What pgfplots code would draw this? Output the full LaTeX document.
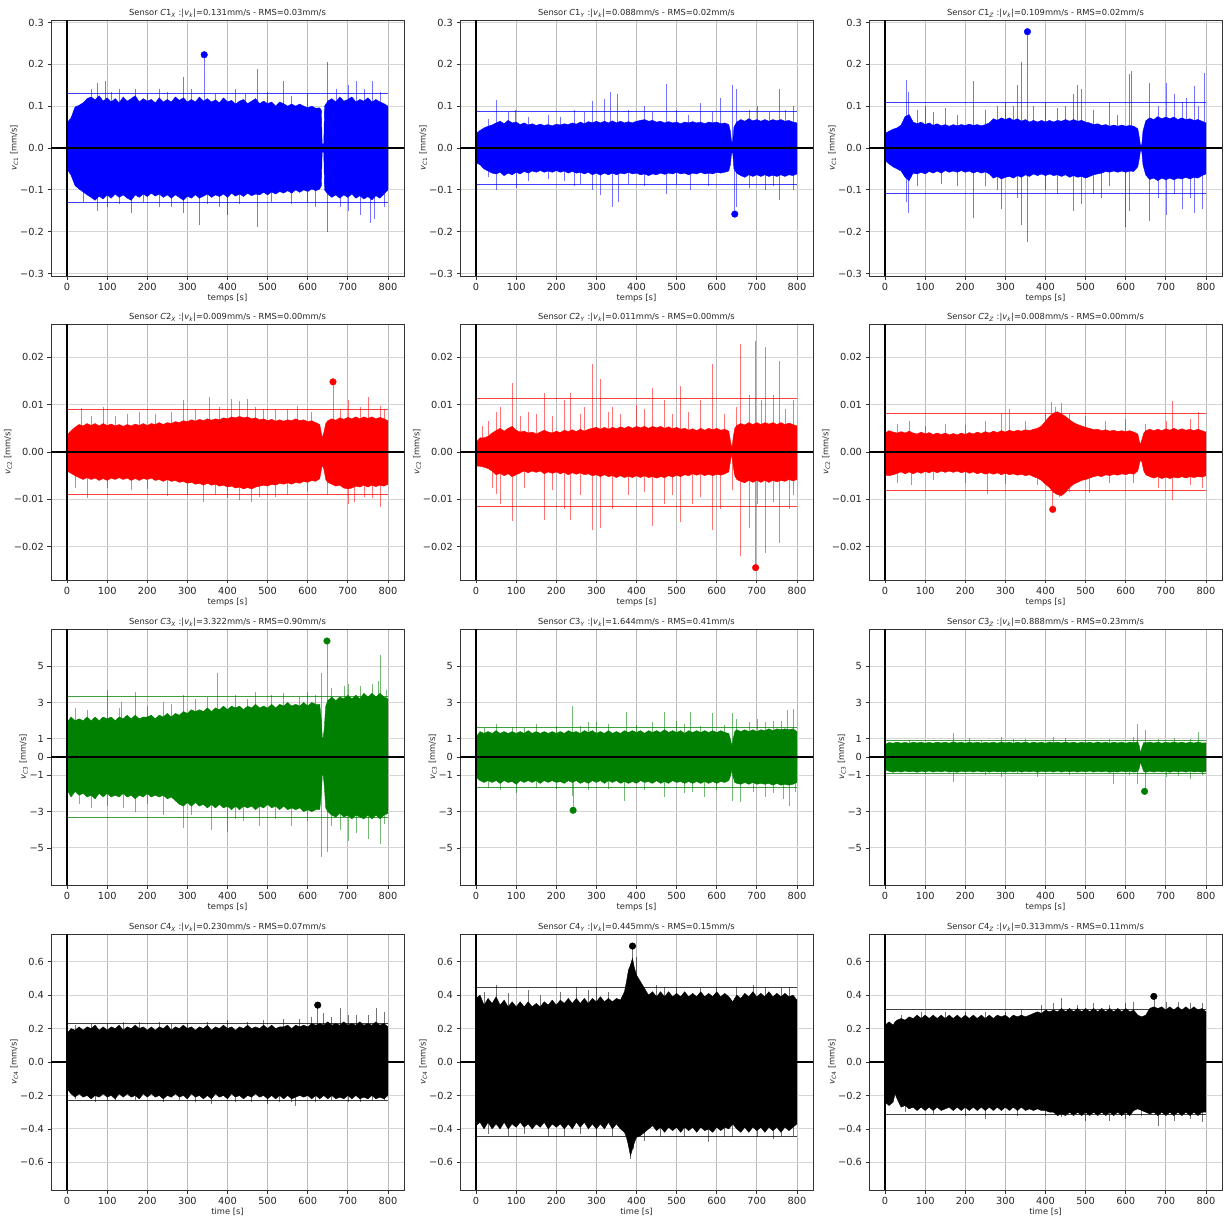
\documentclass[border=0pt]{standalone}
\usepackage{fontspec}
\setmainfont{DejaVu Sans}
\usepackage{pgfplots}
\pgfplotsset{compat=1.18}
\usepackage{pgfplotstable}
\definecolor{mplgreen}{rgb}{0,0.5,0}

\pgfplotsset{
 panel/.style={anchor=north west, scale only axis, width=353pt, height=256pt,
  xmin=-40, xmax=840, xtick={0,100,...,800},
  xticklabels={0,100,200,300,400,500,600,700,800},
  scaled ticks=false,
  grid=major, major grid style={gray!32, line width=0.9pt},
  major x grid style={gray!55, line width=0.7pt},
  tick align=outside, tick pos=left, major tick length=3.5pt,
  tick style={black!80, line width=0.8pt},
  axis line style={black!80, line width=0.8pt},
  ticklabel style={font=\fontsize{9.8}{11}\selectfont, text=black!85},
  label style={font=\fontsize{8.33}{10}\selectfont, text=black!85},
  xlabel style={yshift=3pt},
  ylabel shift=-5pt,
  title style={font=\fontsize{8.33}{10}\selectfont, text=black!85, inner sep=0pt, yshift=-4pt},
 },
 rA/.style={ymin=-0.306, ymax=0.306, ytick={-0.3,-0.2,-0.1,0,0.1,0.2,0.3},
  yticklabels={−0.3,−0.2,−0.1,0.0,0.1,0.2,0.3}, xlabel={temps [s]},
  ylabel={\textit{v}\textsubscript{\textit{C}1} [mm/s]}},
 rB/.style={ymin=-0.027, ymax=0.027, ytick={-0.02,-0.01,0,0.01,0.02},
  yticklabels={−0.02,−0.01,0.00,0.01,0.02}, xlabel={temps [s]},
  ylabel={\textit{v}\textsubscript{\textit{C}2} [mm/s]}},
 rC/.style={ymin=-7.04, ymax=7.04, ytick={-5,-3,-1,0,1,3,5},
  yticklabels={−5,−3,−1,0,1,3,5}, xlabel={temps [s]},
  ylabel={\textit{v}\textsubscript{\textit{C}3} [mm/s]}},
 rD/.style={ymin=-0.765, ymax=0.765, ytick={-0.6,-0.4,-0.2,0,0.2,0.4,0.6},
  yticklabels={−0.6,−0.4,−0.2,0.0,0.2,0.4,0.6}, xlabel={time [s]},
  ylabel={\textit{v}\textsubscript{\textit{C}4} [mm/s]}},
}

\newcommand{\ttl}[4]{Sensor \textit{C}#1\textsubscript{\textit{#2}} :|\textit{v}\textsubscript{\textit{k}}|=#3mm/s - RMS=#4mm/s}

% #1 position, #2 row style, #3 title, #4 colour, #5 envelope table, #6 spikes, #7 |v_k|, #8 peak, #9 y limit
\newcommand{\panel}[9]{%
 \begin{axis}[panel, at={(#1)}, #2, title={#3}]
  \addplot[fill=#4, draw=#4, line width=0.4pt] table[x=t,y=u]{#5} \closedcycle;
  \addplot[fill=#4, draw=#4, line width=0.4pt] table[x=t,y=l]{#5} \closedcycle;
  \addplot[ycomb, draw=#4, opacity=0.55, line width=0.6pt] coordinates {#6};
  \addplot[draw=#4, line width=0.8pt, opacity=0.75] coordinates {(0,#7)(800,#7)};
  \addplot[draw=#4, line width=0.8pt, opacity=0.75] coordinates {(0,-#7)(800,-#7)};
  \addplot[only marks, mark=*, mark size=3.3pt, color=#4] coordinates {#8};
  \addplot[black, line width=1.2pt] coordinates {(-40,0)(840,0)};
  \addplot[black, line width=1.2pt] coordinates {(0,-#9)(0,#9)};
 \end{axis}}

% ---------------- envelopes (t, upper, lower) ----------------
\pgfplotstableread[row sep=\\]{t u l\\
0 0.060 -0.050\\ 10 0.072 -0.065\\ 20 0.098 -0.090\\ 30 0.102 -0.098\\ 40 0.108 -0.105\\ 50 0.118 -0.112\\ 60 0.122 -0.118\\ 70 0.115 -0.125\\ 80 0.125 -0.115\\ 90 0.112 -0.122\\
100 0.120 -0.112\\ 110 0.110 -0.120\\ 120 0.118 -0.110\\ 130 0.108 -0.118\\ 140 0.122 -0.112\\ 150 0.112 -0.120\\ 160 0.118 -0.125\\ 170 0.125 -0.112\\ 180 0.110 -0.118\\ 190 0.118 -0.110\\
200 0.112 -0.116\\ 210 0.116 -0.108\\ 220 0.108 -0.115\\ 230 0.120 -0.110\\ 240 0.110 -0.118\\ 250 0.116 -0.112\\ 260 0.110 -0.120\\ 270 0.122 -0.112\\ 280 0.114 -0.118\\ 290 0.120 -0.125\\
300 0.110 -0.115\\ 310 0.116 -0.120\\ 320 0.110 -0.112\\ 330 0.122 -0.120\\ 340 0.112 -0.115\\ 350 0.118 -0.110\\ 360 0.110 -0.118\\ 370 0.115 -0.112\\ 380 0.108 -0.116\\ 390 0.120 -0.110\\
400 0.110 -0.118\\ 410 0.114 -0.108\\ 420 0.105 -0.115\\ 430 0.112 -0.110\\ 440 0.116 -0.116\\ 450 0.106 -0.108\\ 460 0.112 -0.114\\ 470 0.118 -0.110\\ 480 0.106 -0.112\\ 490 0.112 -0.106\\
500 0.106 -0.112\\ 510 0.110 -0.105\\ 520 0.100 -0.110\\ 530 0.110 -0.104\\ 540 0.106 -0.108\\ 550 0.100 -0.102\\ 560 0.105 -0.108\\ 570 0.100 -0.100\\ 580 0.105 -0.106\\ 590 0.100 -0.100\\
600 0.096 -0.104\\ 610 0.100 -0.098\\ 620 0.095 -0.102\\ 630 0.096 -0.098\\ 634 0.090 -0.090\\ 636 0.010 -0.010\\ 640 0.010 -0.010\\ 642 0.100 -0.100\\ 650 0.112 -0.110\\ 660 0.118 -0.118\\
670 0.110 -0.112\\ 680 0.122 -0.120\\ 690 0.112 -0.112\\ 700 0.116 -0.118\\ 710 0.122 -0.110\\ 720 0.110 -0.120\\ 730 0.116 -0.114\\ 740 0.112 -0.122\\ 750 0.120 -0.116\\ 760 0.110 -0.124\\
770 0.116 -0.114\\ 780 0.110 -0.120\\ 790 0.106 -0.110\\ 800 0.100 -0.100\\}\tA

\pgfplotstableread[row sep=\\]{t u l\\
0 0.035 -0.035\\ 10 0.042 -0.040\\ 20 0.048 -0.050\\ 30 0.052 -0.055\\ 40 0.055 -0.060\\ 50 0.060 -0.062\\ 60 0.064 -0.058\\ 70 0.058 -0.066\\ 80 0.066 -0.060\\ 90 0.060 -0.064\\
100 0.062 -0.058\\ 110 0.056 -0.062\\ 120 0.060 -0.056\\ 130 0.055 -0.060\\ 140 0.058 -0.055\\ 150 0.054 -0.058\\ 160 0.057 -0.054\\ 170 0.054 -0.058\\ 180 0.056 -0.055\\ 190 0.053 -0.058\\
200 0.057 -0.054\\ 210 0.055 -0.058\\ 220 0.058 -0.055\\ 230 0.056 -0.060\\ 240 0.060 -0.056\\ 250 0.057 -0.060\\ 260 0.062 -0.058\\ 270 0.058 -0.062\\ 280 0.063 -0.058\\ 290 0.060 -0.064\\
300 0.064 -0.060\\ 310 0.060 -0.065\\ 320 0.064 -0.060\\ 330 0.060 -0.064\\ 340 0.065 -0.060\\ 350 0.060 -0.064\\ 360 0.064 -0.060\\ 370 0.060 -0.062\\ 380 0.063 -0.058\\ 390 0.060 -0.062\\
400 0.064 -0.060\\ 410 0.066 -0.064\\ 420 0.068 -0.062\\ 430 0.064 -0.066\\ 440 0.066 -0.062\\ 450 0.062 -0.064\\ 460 0.064 -0.060\\ 470 0.060 -0.063\\ 480 0.063 -0.060\\ 490 0.060 -0.062\\
500 0.062 -0.058\\ 510 0.058 -0.062\\ 520 0.062 -0.060\\ 530 0.060 -0.064\\ 540 0.063 -0.060\\ 550 0.060 -0.062\\ 560 0.062 -0.058\\ 570 0.058 -0.062\\ 580 0.062 -0.060\\ 590 0.060 -0.062\\
600 0.062 -0.058\\ 610 0.058 -0.060\\ 620 0.060 -0.058\\ 630 0.056 -0.055\\ 634 0.040 -0.040\\ 637 0.015 -0.012\\ 640 0.015 -0.012\\ 643 0.050 -0.050\\ 650 0.062 -0.060\\ 660 0.068 -0.066\\
670 0.064 -0.070\\ 680 0.070 -0.064\\ 690 0.065 -0.068\\ 700 0.068 -0.064\\ 710 0.064 -0.068\\ 720 0.068 -0.064\\ 730 0.064 -0.068\\ 740 0.068 -0.065\\ 750 0.065 -0.068\\ 760 0.068 -0.064\\
770 0.064 -0.068\\ 780 0.066 -0.064\\ 790 0.062 -0.066\\ 800 0.060 -0.062\\}\tB

\pgfplotstableread[row sep=\\]{t u l\\
0 0.035 -0.030\\ 10 0.040 -0.038\\ 20 0.045 -0.045\\ 30 0.048 -0.050\\ 40 0.055 -0.055\\ 50 0.075 -0.070\\ 60 0.080 -0.078\\ 70 0.062 -0.060\\ 80 0.058 -0.062\\ 90 0.062 -0.058\\
100 0.056 -0.062\\ 110 0.060 -0.056\\ 120 0.054 -0.060\\ 130 0.058 -0.055\\ 140 0.053 -0.060\\ 150 0.056 -0.054\\ 160 0.052 -0.058\\ 170 0.056 -0.055\\ 180 0.053 -0.058\\ 190 0.056 -0.054\\
200 0.054 -0.058\\ 210 0.057 -0.055\\ 220 0.054 -0.060\\ 230 0.056 -0.056\\ 240 0.053 -0.060\\ 250 0.056 -0.057\\ 260 0.060 -0.062\\ 270 0.070 -0.072\\ 280 0.066 -0.068\\ 290 0.072 -0.074\\
300 0.068 -0.070\\ 310 0.072 -0.068\\ 320 0.066 -0.072\\ 330 0.070 -0.066\\ 340 0.064 -0.070\\ 350 0.068 -0.064\\ 360 0.062 -0.068\\ 370 0.066 -0.062\\ 380 0.062 -0.066\\ 390 0.066 -0.062\\
400 0.062 -0.066\\ 410 0.066 -0.062\\ 420 0.062 -0.066\\ 430 0.066 -0.064\\ 440 0.064 -0.068\\ 450 0.068 -0.064\\ 460 0.064 -0.070\\ 470 0.068 -0.066\\ 480 0.064 -0.070\\ 490 0.066 -0.068\\
500 0.062 -0.072\\ 510 0.060 -0.068\\ 520 0.056 -0.064\\ 530 0.058 -0.062\\ 540 0.054 -0.060\\ 550 0.056 -0.056\\ 560 0.052 -0.058\\ 570 0.055 -0.055\\ 580 0.052 -0.058\\ 590 0.055 -0.055\\
600 0.052 -0.058\\ 610 0.054 -0.055\\ 620 0.052 -0.056\\ 630 0.046 -0.045\\ 634 0.025 -0.025\\ 637 0.005 -0.005\\ 640 0.008 -0.008\\ 643 0.040 -0.040\\ 650 0.065 -0.065\\ 660 0.072 -0.075\\
670 0.068 -0.072\\ 680 0.075 -0.078\\ 690 0.070 -0.072\\ 700 0.074 -0.076\\ 710 0.070 -0.072\\ 720 0.074 -0.076\\ 730 0.068 -0.072\\ 740 0.072 -0.074\\ 750 0.068 -0.070\\ 760 0.070 -0.074\\
770 0.066 -0.070\\ 780 0.068 -0.072\\ 790 0.064 -0.066\\ 800 0.060 -0.062\\}\tC

\pgfplotstableread[row sep=\\]{t u l\\
0 0.0035 -0.0040\\ 10 0.0045 -0.0045\\ 20 0.0052 -0.0050\\ 30 0.0058 -0.0054\\ 40 0.0055 -0.0058\\ 50 0.0060 -0.0054\\ 60 0.0056 -0.0058\\ 70 0.0060 -0.0055\\ 80 0.0055 -0.0060\\ 90 0.0060 -0.0056\\
100 0.0056 -0.0060\\ 110 0.0059 -0.0055\\ 120 0.0055 -0.0058\\ 130 0.0058 -0.0054\\ 140 0.0054 -0.0058\\ 150 0.0058 -0.0055\\ 160 0.0055 -0.0060\\ 170 0.0059 -0.0056\\ 180 0.0056 -0.0060\\ 190 0.0060 -0.0056\\
200 0.0056 -0.0058\\ 210 0.0060 -0.0055\\ 220 0.0058 -0.0060\\ 230 0.0062 -0.0058\\ 240 0.0058 -0.0062\\ 250 0.0062 -0.0058\\ 260 0.0060 -0.0062\\ 270 0.0064 -0.0060\\ 280 0.0062 -0.0064\\ 290 0.0066 -0.0062\\
300 0.0064 -0.0066\\ 310 0.0068 -0.0064\\ 320 0.0065 -0.0068\\ 330 0.0069 -0.0066\\ 340 0.0066 -0.0070\\ 350 0.0070 -0.0066\\ 360 0.0067 -0.0070\\ 370 0.0070 -0.0068\\ 380 0.0068 -0.0072\\ 390 0.0072 -0.0070\\
400 0.0070 -0.0074\\ 410 0.0074 -0.0072\\ 420 0.0072 -0.0076\\ 430 0.0075 -0.0074\\ 440 0.0072 -0.0078\\ 450 0.0074 -0.0075\\ 460 0.0070 -0.0078\\ 470 0.0072 -0.0074\\ 480 0.0068 -0.0072\\ 490 0.0070 -0.0070\\
500 0.0066 -0.0072\\ 510 0.0069 -0.0068\\ 520 0.0065 -0.0070\\ 530 0.0068 -0.0066\\ 540 0.0065 -0.0068\\ 550 0.0068 -0.0065\\ 560 0.0066 -0.0068\\ 570 0.0070 -0.0064\\ 580 0.0066 -0.0066\\ 590 0.0068 -0.0062\\
600 0.0064 -0.0064\\ 610 0.0066 -0.0060\\ 620 0.0062 -0.0062\\ 630 0.0058 -0.0056\\ 636 0.0030 -0.0028\\ 640 0.0040 -0.0035\\ 645 0.0060 -0.0058\\ 650 0.0066 -0.0064\\ 660 0.0070 -0.0068\\ 670 0.0067 -0.0072\\
680 0.0072 -0.0070\\ 690 0.0069 -0.0076\\ 700 0.0073 -0.0078\\ 710 0.0070 -0.0076\\ 720 0.0074 -0.0072\\ 730 0.0070 -0.0074\\ 740 0.0074 -0.0070\\ 750 0.0071 -0.0074\\ 760 0.0074 -0.0070\\ 770 0.0070 -0.0073\\
780 0.0073 -0.0070\\ 790 0.0070 -0.0072\\ 800 0.0066 -0.0068\\}\tD

\pgfplotstableread[row sep=\\]{t u l\\
0 0.0020 -0.0030\\ 10 0.0030 -0.0030\\ 20 0.0030 -0.0032\\ 30 0.0033 -0.0035\\ 40 0.0040 -0.0040\\ 50 0.0045 -0.0048\\ 60 0.0050 -0.0045\\ 70 0.0044 -0.0050\\ 80 0.0050 -0.0046\\ 90 0.0054 -0.0052\\
100 0.0046 -0.0048\\ 110 0.0042 -0.0044\\ 120 0.0044 -0.0040\\ 130 0.0040 -0.0044\\ 140 0.0042 -0.0040\\ 150 0.0038 -0.0043\\ 160 0.0042 -0.0040\\ 170 0.0046 -0.0046\\ 180 0.0042 -0.0042\\ 190 0.0040 -0.0045\\
200 0.0044 -0.0042\\ 210 0.0041 -0.0046\\ 220 0.0046 -0.0043\\ 230 0.0043 -0.0048\\ 240 0.0047 -0.0044\\ 250 0.0043 -0.0047\\ 260 0.0048 -0.0044\\ 270 0.0044 -0.0048\\ 280 0.0048 -0.0046\\ 290 0.0050 -0.0050\\
300 0.0052 -0.0048\\ 310 0.0048 -0.0052\\ 320 0.0052 -0.0048\\ 330 0.0048 -0.0052\\ 340 0.0052 -0.0050\\ 350 0.0049 -0.0054\\ 360 0.0053 -0.0050\\ 370 0.0050 -0.0054\\ 380 0.0054 -0.0051\\ 390 0.0050 -0.0054\\
400 0.0054 -0.0050\\ 410 0.0051 -0.0054\\ 420 0.0054 -0.0050\\ 430 0.0050 -0.0054\\ 440 0.0054 -0.0052\\ 450 0.0051 -0.0055\\ 460 0.0054 -0.0052\\ 470 0.0050 -0.0054\\ 480 0.0053 -0.0050\\ 490 0.0049 -0.0053\\
500 0.0052 -0.0049\\ 510 0.0048 -0.0052\\ 520 0.0050 -0.0048\\ 530 0.0046 -0.0050\\ 540 0.0049 -0.0046\\ 550 0.0045 -0.0049\\ 560 0.0050 -0.0046\\ 570 0.0046 -0.0050\\ 580 0.0050 -0.0047\\ 590 0.0047 -0.0050\\
600 0.0050 -0.0047\\ 610 0.0046 -0.0049\\ 620 0.0048 -0.0046\\ 630 0.0044 -0.0042\\ 635 0.0020 -0.0015\\ 638 0.0008 -0.0005\\ 641 0.0030 -0.0030\\ 645 0.0050 -0.0050\\ 650 0.0056 -0.0058\\ 660 0.0060 -0.0062\\
670 0.0057 -0.0065\\ 680 0.0062 -0.0060\\ 690 0.0058 -0.0064\\ 700 0.0062 -0.0060\\ 710 0.0058 -0.0064\\ 720 0.0062 -0.0060\\ 730 0.0059 -0.0064\\ 740 0.0062 -0.0060\\ 750 0.0058 -0.0063\\ 760 0.0062 -0.0060\\
770 0.0058 -0.0062\\ 780 0.0061 -0.0058\\ 790 0.0058 -0.0061\\ 800 0.0055 -0.0058\\}\tE

\pgfplotstableread[row sep=\\]{t u l\\
0 0.0040 -0.0050\\ 10 0.0045 -0.0050\\ 20 0.0042 -0.0048\\ 30 0.0040 -0.0045\\ 40 0.0043 -0.0042\\ 50 0.0040 -0.0046\\ 60 0.0044 -0.0042\\ 70 0.0040 -0.0046\\ 80 0.0038 -0.0042\\ 90 0.0042 -0.0045\\
100 0.0038 -0.0041\\ 110 0.0041 -0.0044\\ 120 0.0037 -0.0040\\ 130 0.0040 -0.0044\\ 140 0.0037 -0.0040\\ 150 0.0040 -0.0043\\ 160 0.0036 -0.0040\\ 170 0.0039 -0.0043\\ 180 0.0036 -0.0040\\ 190 0.0040 -0.0044\\
200 0.0037 -0.0041\\ 210 0.0041 -0.0045\\ 220 0.0038 -0.0042\\ 230 0.0042 -0.0046\\ 240 0.0039 -0.0043\\ 250 0.0043 -0.0047\\ 260 0.0040 -0.0044\\ 270 0.0044 -0.0047\\ 280 0.0041 -0.0044\\ 290 0.0045 -0.0048\\
300 0.0042 -0.0045\\ 310 0.0046 -0.0048\\ 320 0.0043 -0.0046\\ 330 0.0046 -0.0049\\ 340 0.0044 -0.0047\\ 350 0.0047 -0.0050\\ 360 0.0045 -0.0048\\ 370 0.0048 -0.0052\\ 380 0.0050 -0.0055\\ 390 0.0055 -0.0060\\
400 0.0065 -0.0068\\ 410 0.0075 -0.0075\\ 420 0.0082 -0.0085\\ 430 0.0085 -0.0090\\ 440 0.0080 -0.0092\\ 450 0.0075 -0.0085\\ 460 0.0068 -0.0075\\ 470 0.0062 -0.0068\\ 480 0.0058 -0.0064\\ 490 0.0055 -0.0060\\
500 0.0052 -0.0058\\ 510 0.0050 -0.0055\\ 520 0.0047 -0.0052\\ 530 0.0048 -0.0050\\ 540 0.0045 -0.0052\\ 550 0.0047 -0.0048\\ 560 0.0044 -0.0050\\ 570 0.0046 -0.0047\\ 580 0.0043 -0.0049\\ 590 0.0045 -0.0046\\
600 0.0043 -0.0048\\ 610 0.0045 -0.0045\\ 620 0.0042 -0.0047\\ 630 0.0038 -0.0040\\ 636 0.0015 -0.0018\\ 640 0.0025 -0.0020\\ 645 0.0040 -0.0040\\ 650 0.0045 -0.0048\\ 660 0.0048 -0.0052\\ 670 0.0045 -0.0055\\
680 0.0048 -0.0052\\ 690 0.0045 -0.0056\\ 700 0.0049 -0.0053\\ 710 0.0046 -0.0056\\ 720 0.0050 -0.0053\\ 730 0.0046 -0.0055\\ 740 0.0049 -0.0052\\ 750 0.0046 -0.0055\\ 760 0.0048 -0.0052\\ 770 0.0045 -0.0054\\
780 0.0048 -0.0052\\ 790 0.0045 -0.0053\\ 800 0.0042 -0.0050\\}\tF

\pgfplotstableread[row sep=\\]{t u l\\
0 1.9 -1.8\\ 10 2.2 -2.2\\ 20 2.0 -1.9\\ 30 2.1 -2.1\\ 40 2.0 -2.0\\ 50 2.2 -2.2\\ 60 2.0 -2.1\\ 70 2.2 -2.3\\ 80 2.0 -2.0\\ 90 2.2 -2.2\\
100 2.1 -2.0\\ 110 2.2 -2.2\\ 120 2.0 -2.1\\ 130 2.2 -2.2\\ 140 2.1 -2.0\\ 150 2.3 -2.2\\ 160 2.1 -2.1\\ 170 2.3 -2.3\\ 180 2.1 -2.1\\ 190 2.2 -2.2\\
200 2.2 -2.0\\ 210 2.3 -2.2\\ 220 2.1 -2.1\\ 230 2.3 -2.2\\ 240 2.2 -2.1\\ 250 2.4 -2.3\\ 260 2.2 -2.2\\ 270 2.4 -2.4\\ 280 2.3 -2.6\\ 290 2.5 -2.7\\
300 2.4 -2.5\\ 310 2.6 -2.7\\ 320 2.5 -2.5\\ 330 2.6 -2.7\\ 340 2.5 -2.6\\ 350 2.7 -2.8\\ 360 2.5 -2.6\\ 370 2.7 -2.8\\ 380 2.6 -2.6\\ 390 2.8 -2.8\\
400 2.6 -2.7\\ 410 2.8 -2.9\\ 420 2.7 -2.7\\ 430 2.8 -2.9\\ 440 2.6 -2.7\\ 450 2.8 -2.8\\ 460 2.7 -2.7\\ 470 2.9 -2.9\\ 480 2.7 -2.7\\ 490 2.8 -2.8\\
500 2.7 -2.6\\ 510 2.9 -2.8\\ 520 2.7 -2.7\\ 530 2.9 -2.9\\ 540 2.8 -2.7\\ 550 3.0 -2.9\\ 560 2.8 -2.8\\ 570 2.9 -2.9\\ 580 2.8 -2.8\\ 590 3.0 -3.0\\
600 2.8 -2.9\\ 610 3.0 -3.0\\ 620 2.9 -2.9\\ 630 2.9 -2.9\\ 634 2.0 -2.0\\ 637 0.8 -0.7\\ 641 1.5 -1.5\\ 645 2.8 -2.8\\ 650 3.1 -3.0\\ 660 3.3 -3.2\\
670 3.1 -3.3\\ 680 3.3 -3.1\\ 690 3.2 -3.3\\ 700 3.4 -3.2\\ 710 3.2 -3.4\\ 720 3.4 -3.2\\ 730 3.2 -3.3\\ 740 3.5 -3.4\\ 750 3.3 -3.2\\ 760 3.5 -3.4\\
770 3.3 -3.2\\ 780 3.5 -3.4\\ 790 3.3 -3.2\\ 800 3.2 -3.1\\}\tG

\pgfplotstableread[row sep=\\]{t u l\\
0 1.1 -1.1\\ 10 1.4 -1.3\\ 20 1.3 -1.4\\ 30 1.4 -1.3\\ 40 1.3 -1.4\\ 50 1.45 -1.3\\ 60 1.3 -1.45\\ 70 1.4 -1.3\\ 80 1.3 -1.4\\ 90 1.4 -1.35\\
100 1.3 -1.5\\ 110 1.4 -1.3\\ 120 1.3 -1.4\\ 130 1.45 -1.3\\ 140 1.3 -1.4\\ 150 1.4 -1.3\\ 160 1.3 -1.45\\ 170 1.4 -1.3\\ 180 1.3 -1.4\\ 190 1.4 -1.3\\
200 1.3 -1.4\\ 210 1.4 -1.35\\ 220 1.3 -1.45\\ 230 1.45 -1.3\\ 240 1.35 -1.4\\ 250 1.4 -1.3\\ 260 1.3 -1.45\\ 270 1.45 -1.35\\ 280 1.35 -1.45\\ 290 1.45 -1.3\\
300 1.3 -1.4\\ 310 1.4 -1.3\\ 320 1.3 -1.45\\ 330 1.45 -1.3\\ 340 1.3 -1.4\\ 350 1.4 -1.3\\ 360 1.3 -1.45\\ 370 1.45 -1.35\\ 380 1.35 -1.45\\ 390 1.45 -1.35\\
400 1.35 -1.45\\ 410 1.45 -1.3\\ 420 1.3 -1.4\\ 430 1.45 -1.35\\ 440 1.35 -1.45\\ 450 1.45 -1.3\\ 460 1.35 -1.45\\ 470 1.5 -1.35\\ 480 1.35 -1.45\\ 490 1.45 -1.3\\
500 1.35 -1.4\\ 510 1.45 -1.35\\ 520 1.3 -1.45\\ 530 1.45 -1.35\\ 540 1.35 -1.45\\ 550 1.45 -1.35\\ 560 1.35 -1.45\\ 570 1.45 -1.35\\ 580 1.35 -1.45\\ 590 1.45 -1.35\\
600 1.35 -1.45\\ 610 1.45 -1.35\\ 620 1.35 -1.4\\ 630 1.3 -1.3\\ 635 0.9 -1.0\\ 638 0.6 -0.7\\ 641 1.0 -1.1\\ 645 1.4 -1.4\\ 650 1.5 -1.45\\ 660 1.4 -1.5\\
670 1.5 -1.4\\ 680 1.4 -1.5\\ 690 1.5 -1.4\\ 700 1.4 -1.5\\ 710 1.5 -1.45\\ 720 1.45 -1.5\\ 730 1.55 -1.45\\ 740 1.45 -1.55\\ 750 1.55 -1.45\\ 760 1.5 -1.55\\
770 1.55 -1.5\\ 780 1.5 -1.55\\ 790 1.55 -1.5\\ 800 1.4 -1.4\\}\tH

\pgfplotstableread[row sep=\\]{t u l\\
0 0.70 -0.70\\ 10 0.80 -0.78\\ 20 0.76 -0.84\\ 30 0.82 -0.78\\ 40 0.76 -0.83\\ 50 0.81 -0.77\\ 60 0.75 -0.82\\ 70 0.82 -0.78\\ 80 0.77 -0.84\\ 90 0.82 -0.78\\
100 0.76 -0.82\\ 110 0.81 -0.77\\ 120 0.76 -0.83\\ 130 0.82 -0.78\\ 140 0.77 -0.82\\ 150 0.82 -0.77\\ 160 0.76 -0.83\\ 170 0.84 -0.80\\ 180 0.77 -0.84\\ 190 0.82 -0.78\\
200 0.76 -0.82\\ 210 0.82 -0.78\\ 220 0.77 -0.83\\ 230 0.82 -0.77\\ 240 0.76 -0.82\\ 250 0.81 -0.78\\ 260 0.77 -0.83\\ 270 0.82 -0.78\\ 280 0.76 -0.82\\ 290 0.83 -0.80\\
300 0.77 -0.83\\ 310 0.82 -0.78\\ 320 0.76 -0.82\\ 330 0.82 -0.77\\ 340 0.77 -0.83\\ 350 0.83 -0.78\\ 360 0.76 -0.82\\ 370 0.82 -0.78\\ 380 0.77 -0.84\\ 390 0.82 -0.78\\
400 0.76 -0.82\\ 410 0.83 -0.78\\ 420 0.78 -0.83\\ 430 0.82 -0.77\\ 440 0.77 -0.83\\ 450 0.83 -0.78\\ 460 0.77 -0.82\\ 470 0.82 -0.78\\ 480 0.76 -0.83\\ 490 0.82 -0.78\\
500 0.77 -0.82\\ 510 0.82 -0.77\\ 520 0.76 -0.83\\ 530 0.83 -0.78\\ 540 0.77 -0.82\\ 550 0.82 -0.78\\ 560 0.76 -0.84\\ 570 0.82 -0.80\\ 580 0.77 -0.83\\ 590 0.82 -0.78\\
600 0.76 -0.82\\ 610 0.82 -0.78\\ 620 0.78 -0.83\\ 630 0.84 -0.80\\ 634 0.60 -0.60\\ 637 0.20 -0.25\\ 640 0.50 -0.50\\ 645 0.80 -0.80\\ 650 0.78 -0.84\\ 660 0.82 -0.78\\
670 0.77 -0.83\\ 680 0.82 -0.78\\ 690 0.76 -0.82\\ 700 0.82 -0.78\\ 710 0.77 -0.84\\ 720 0.83 -0.78\\ 730 0.77 -0.82\\ 740 0.82 -0.78\\ 750 0.76 -0.83\\ 760 0.82 -0.78\\
770 0.77 -0.82\\ 780 0.83 -0.80\\ 790 0.77 -0.83\\ 800 0.78 -0.80\\}\tI

\pgfplotstableread[row sep=\\]{t u l\\
0 0.17 -0.16\\ 10 0.20 -0.19\\ 20 0.19 -0.21\\ 30 0.21 -0.19\\ 40 0.19 -0.21\\ 50 0.21 -0.20\\ 60 0.20 -0.22\\ 70 0.22 -0.20\\ 80 0.19 -0.21\\ 90 0.21 -0.19\\
100 0.19 -0.21\\ 110 0.21 -0.20\\ 120 0.20 -0.22\\ 130 0.22 -0.19\\ 140 0.19 -0.21\\ 150 0.21 -0.19\\ 160 0.20 -0.21\\ 170 0.22 -0.20\\ 180 0.20 -0.22\\ 190 0.21 -0.19\\
200 0.19 -0.21\\ 210 0.21 -0.19\\ 220 0.19 -0.21\\ 230 0.21 -0.20\\ 240 0.20 -0.22\\ 250 0.22 -0.20\\ 260 0.19 -0.21\\ 270 0.21 -0.19\\ 280 0.20 -0.21\\ 290 0.22 -0.20\\
300 0.20 -0.22\\ 310 0.21 -0.19\\ 320 0.19 -0.21\\ 330 0.21 -0.20\\ 340 0.20 -0.22\\ 350 0.22 -0.20\\ 360 0.19 -0.22\\ 370 0.21 -0.19\\ 380 0.20 -0.21\\ 390 0.22 -0.20\\
400 0.20 -0.22\\ 410 0.21 -0.19\\ 420 0.19 -0.21\\ 430 0.21 -0.20\\ 440 0.20 -0.22\\ 450 0.22 -0.20\\ 460 0.20 -0.21\\ 470 0.21 -0.19\\ 480 0.20 -0.21\\ 490 0.22 -0.20\\
500 0.20 -0.22\\ 510 0.22 -0.20\\ 520 0.20 -0.22\\ 530 0.21 -0.20\\ 540 0.21 -0.22\\ 550 0.22 -0.20\\ 560 0.20 -0.22\\ 570 0.22 -0.21\\ 580 0.21 -0.20\\ 590 0.22 -0.21\\
600 0.21 -0.20\\ 610 0.23 -0.22\\ 620 0.22 -0.20\\ 630 0.23 -0.22\\ 640 0.22 -0.20\\ 650 0.24 -0.22\\ 660 0.22 -0.20\\ 670 0.23 -0.22\\ 680 0.22 -0.21\\ 690 0.24 -0.22\\
700 0.22 -0.20\\ 710 0.23 -0.22\\ 720 0.22 -0.20\\ 730 0.24 -0.22\\ 740 0.22 -0.21\\ 750 0.23 -0.22\\ 760 0.22 -0.20\\ 770 0.24 -0.22\\ 780 0.22 -0.21\\ 790 0.23 -0.22\\ 800 0.21 -0.20\\}\tJ

\pgfplotstableread[row sep=\\]{t u l\\
0 0.38 -0.38\\ 10 0.40 -0.36\\ 20 0.34 -0.40\\ 30 0.38 -0.36\\ 40 0.35 -0.40\\ 50 0.39 -0.37\\ 60 0.34 -0.40\\ 70 0.37 -0.36\\ 80 0.33 -0.40\\ 90 0.36 -0.37\\
100 0.33 -0.39\\ 110 0.36 -0.36\\ 120 0.33 -0.39\\ 130 0.36 -0.37\\ 140 0.33 -0.40\\ 150 0.35 -0.37\\ 160 0.33 -0.39\\ 170 0.36 -0.36\\ 180 0.34 -0.40\\ 190 0.37 -0.37\\
200 0.34 -0.39\\ 210 0.37 -0.37\\ 220 0.35 -0.40\\ 230 0.38 -0.37\\ 240 0.35 -0.40\\ 250 0.38 -0.36\\ 260 0.35 -0.39\\ 270 0.38 -0.36\\ 280 0.35 -0.40\\ 290 0.38 -0.37\\
300 0.36 -0.40\\ 310 0.39 -0.37\\ 320 0.36 -0.40\\ 330 0.38 -0.36\\ 340 0.36 -0.40\\ 350 0.38 -0.37\\ 360 0.37 -0.40\\ 370 0.42 -0.42\\ 375 0.48 -0.45\\ 380 0.55 -0.50\\
385 0.58 -0.56\\ 390 0.62 -0.52\\ 395 0.56 -0.48\\ 400 0.52 -0.45\\ 410 0.48 -0.44\\ 420 0.44 -0.42\\ 430 0.40 -0.40\\ 440 0.42 -0.38\\ 450 0.39 -0.41\\ 460 0.42 -0.39\\
470 0.39 -0.42\\ 480 0.42 -0.39\\ 490 0.39 -0.41\\ 500 0.41 -0.39\\ 510 0.39 -0.42\\ 520 0.42 -0.39\\ 530 0.39 -0.41\\ 540 0.41 -0.39\\ 550 0.39 -0.42\\ 560 0.42 -0.39\\
570 0.39 -0.41\\ 580 0.41 -0.40\\ 590 0.39 -0.42\\ 600 0.42 -0.39\\ 610 0.39 -0.41\\ 620 0.41 -0.39\\ 630 0.39 -0.40\\ 640 0.36 -0.37\\ 650 0.40 -0.40\\ 660 0.38 -0.42\\
670 0.41 -0.39\\ 680 0.39 -0.42\\ 690 0.42 -0.39\\ 700 0.39 -0.41\\ 710 0.41 -0.39\\ 720 0.39 -0.42\\ 730 0.42 -0.39\\ 740 0.39 -0.41\\ 750 0.41 -0.39\\ 760 0.39 -0.42\\
770 0.41 -0.39\\ 780 0.39 -0.41\\ 790 0.40 -0.39\\ 800 0.37 -0.37\\}\tK

\pgfplotstableread[row sep=\\]{t u l\\
0 0.22 -0.24\\ 10 0.24 -0.26\\ 20 0.22 -0.24\\ 25 0.24 -0.19\\ 30 0.25 -0.22\\ 40 0.26 -0.27\\ 50 0.25 -0.26\\ 60 0.27 -0.28\\ 70 0.26 -0.27\\ 80 0.28 -0.29\\
90 0.26 -0.27\\ 100 0.28 -0.29\\ 110 0.26 -0.27\\ 120 0.28 -0.29\\ 130 0.26 -0.27\\ 140 0.28 -0.29\\ 150 0.26 -0.28\\ 160 0.28 -0.27\\ 170 0.26 -0.29\\ 180 0.28 -0.27\\
190 0.26 -0.29\\ 200 0.28 -0.27\\ 210 0.26 -0.29\\ 220 0.28 -0.27\\ 230 0.26 -0.29\\ 240 0.28 -0.27\\ 250 0.26 -0.29\\ 260 0.28 -0.27\\ 270 0.26 -0.29\\ 280 0.28 -0.27\\
290 0.27 -0.29\\ 300 0.28 -0.27\\ 310 0.26 -0.29\\ 320 0.28 -0.27\\ 330 0.27 -0.29\\ 340 0.28 -0.27\\ 350 0.27 -0.29\\ 360 0.28 -0.28\\ 370 0.29 -0.29\\ 380 0.30 -0.28\\
390 0.29 -0.29\\ 400 0.31 -0.29\\ 410 0.30 -0.30\\ 420 0.31 -0.30\\ 430 0.30 -0.32\\ 440 0.32 -0.31\\ 450 0.30 -0.32\\ 460 0.32 -0.30\\ 470 0.30 -0.32\\ 480 0.32 -0.30\\
490 0.30 -0.32\\ 500 0.32 -0.30\\ 510 0.30 -0.32\\ 520 0.32 -0.30\\ 530 0.30 -0.32\\ 540 0.32 -0.30\\ 550 0.30 -0.32\\ 560 0.32 -0.30\\ 570 0.30 -0.32\\ 580 0.32 -0.30\\
590 0.30 -0.32\\ 600 0.32 -0.30\\ 610 0.30 -0.32\\ 620 0.31 -0.29\\ 630 0.28 -0.28\\ 640 0.27 -0.29\\ 650 0.28 -0.30\\ 660 0.32 -0.31\\ 670 0.33 -0.30\\ 680 0.32 -0.32\\
690 0.33 -0.30\\ 700 0.31 -0.32\\ 710 0.33 -0.30\\ 720 0.31 -0.32\\ 730 0.33 -0.30\\ 740 0.31 -0.32\\ 750 0.33 -0.30\\ 760 0.31 -0.32\\ 770 0.33 -0.30\\ 780 0.31 -0.32\\
790 0.32 -0.30\\ 800 0.30 -0.30\\}\tL

\begin{document}
\begin{tikzpicture}
\path[use as bounding box] (0pt,0pt) rectangle (1224pt,-1223pt);

% ---- row 1 ----
\panel{51pt,-20pt}{rA}{\ttl{1}{X}{0.131}{0.03}}{blue}{\tA}
 {(75,0.155)(95,0.16)(170,0.14)(290,0.17)(342,0.223)(475,0.19)(540,0.16)(650,0.205)(720,0.16)(760,0.16)
  (30,0.1)(60,0.14)(110,0.135)(130,0.14)(200,0.13)(230,0.14)(250,0.135)(310,0.14)(370,0.13)(420,0.14)(445,0.13)(500,0.135)(560,0.125)(600,0.13)(670,0.14)(700,0.15)(740,0.14)(780,0.135)
  (75,-0.15)(160,-0.155)(290,-0.155)(330,-0.185)(400,-0.16)(475,-0.19)(650,-0.2)(755,-0.18)(765,-0.17)
  (40,-0.13)(100,-0.14)(130,-0.135)(190,-0.13)(230,-0.14)(260,-0.14)(350,-0.135)(380,-0.14)(430,-0.135)(510,-0.13)(560,-0.135)(600,-0.13)(620,-0.14)(680,-0.14)(700,-0.15)(730,-0.16)(790,-0.14)}
 {0.131}{(342,0.223)}{0.306}
\panel{460pt,-20pt}{rA}{\ttl{1}{Y}{0.088}{0.02}}{blue}{\tB}
 {(50,0.115)(98,0.092)(245,0.09)(290,0.112)(320,0.118)(335,0.135)(352,0.13)(420,0.1)(475,0.152)(560,0.108)(610,0.12)(640,0.15)(650,0.14)(700,0.1)(755,0.142)(790,0.1)
  (30,0.07)(80,0.085)(130,0.075)(180,0.08)(210,0.075)(270,0.085)(380,0.09)(440,0.085)(500,0.09)(530,0.08)(590,0.085)(680,0.09)(730,0.085)(770,0.09)
  (50,-0.1)(100,-0.095)(245,-0.09)(290,-0.1)(310,-0.112)(340,-0.14)(355,-0.13)(475,-0.11)(535,-0.1)(645,-0.158)(650,-0.14)(720,-0.1)(755,-0.125)
  (30,-0.07)(130,-0.08)(180,-0.075)(220,-0.08)(260,-0.085)(380,-0.085)(420,-0.09)(500,-0.085)(580,-0.09)(680,-0.095)(740,-0.09)(790,-0.1)}
 {0.088}{(645,-0.158)}{0.306}
\panel{869pt,-20pt}{rA}{\ttl{1}{Z}{0.109}{0.02}}{blue}{\tC}
 {(53,0.162)(58,0.135)(100,0.1)(150,0.095)(220,0.16)(300,0.11)(330,0.15)(340,0.205)(355,0.278)(400,0.11)(470,0.13)(480,0.15)(490,0.142)(560,0.11)(610,0.178)(613,0.183)(660,0.155)(700,0.155)(720,0.13)(750,0.12)(770,0.148)(795,0.18)
  (80,0.09)(120,0.085)(180,0.08)(250,0.09)(280,0.1)(320,0.1)(370,0.1)(430,0.095)(450,0.1)(520,0.09)(580,0.08)(680,0.1)(740,0.11)(780,0.1)
  (53,-0.13)(58,-0.155)(220,-0.168)(290,-0.145)(330,-0.12)(340,-0.185)(355,-0.225)(470,-0.15)(490,-0.135)(540,-0.12)(600,-0.19)(610,-0.15)(660,-0.175)(700,-0.16)(740,-0.145)(770,-0.155)(790,-0.145)
  (80,-0.09)(140,-0.085)(180,-0.09)(250,-0.09)(280,-0.1)(400,-0.1)(430,-0.11)(520,-0.11)(560,-0.09)(680,-0.12)(720,-0.11)(760,-0.12)}
 {0.109}{(355,0.278)}{0.306}

% ---- row 2 ----
\panel{51pt,-324pt}{rB}{\ttl{2}{X}{0.009}{0.00}}{red}{\tD}
 {(35,0.0092)(90,0.0095)(180,0.0085)(290,0.011)(355,0.0115)(410,0.0112)(430,0.0108)(450,0.0112)(520,0.009)(575,0.0097)(663,0.0148)(700,0.011)(750,0.0115)(780,0.0098)
  (60,0.0075)(120,0.0075)(150,0.008)(220,0.008)(260,0.0085)(320,0.009)(380,0.0095)(470,0.0095)(490,0.009)(550,0.009)(610,0.0085)(680,0.009)(730,0.0095)(790,0.009)
  (50,-0.0098)(250,-0.0092)(340,-0.0105)(400,-0.0098)(430,-0.0102)(460,-0.0105)(520,-0.0095)(700,-0.011)(715,-0.0105)(760,-0.0098)(780,-0.0115)
  (20,-0.0075)(100,-0.0075)(160,-0.008)(200,-0.0078)(300,-0.009)(370,-0.009)(480,-0.0095)(550,-0.009)(600,-0.0085)(650,-0.009)(740,-0.0095)}
 {0.009}{(663,0.0148)}{0.027}
\panel{460pt,-324pt}{rB}{\ttl{2}{Y}{0.011}{0.00}}{red}{\tE}
 {(15,0.0055)(50,0.0085)(60,0.0095)(90,0.0145)(130,0.0085)(170,0.0125)(220,0.011)(235,0.0125)(270,0.0095)(290,0.0185)(310,0.0155)(340,0.0095)(400,0.01)(440,0.0135)(470,0.011)(510,0.014)(560,0.011)(590,0.0185)(660,0.0228)(680,0.012)(697,0.0235)(720,0.0222)(740,0.012)(755,0.0192)(790,0.011)
  (30,0.0065)(110,0.0075)(150,0.008)(190,0.0075)(260,0.008)(330,0.0085)(360,0.008)(420,0.009)(490,0.008)(530,0.0085)(620,0.008)(650,0.0095)(710,0.011)(770,0.009)
  (50,-0.0088)(60,-0.011)(90,-0.0145)(170,-0.0143)(220,-0.012)(235,-0.0143)(290,-0.0165)(310,-0.016)(340,-0.012)(440,-0.0157)(470,-0.011)(510,-0.0148)(540,-0.011)(590,-0.0165)(610,-0.012)(660,-0.022)(680,-0.016)(697,-0.0244)(720,-0.0214)(755,-0.0192)(780,-0.012)
  (40,-0.0075)(120,-0.0075)(190,-0.008)(260,-0.009)(380,-0.009)(420,-0.0085)(490,-0.009)(560,-0.0095)(640,-0.008)(700,-0.011)(740,-0.0105)(790,-0.009)}
 {0.0114}{(697,-0.0244)}{0.027}
\panel{869pt,-324pt}{rB}{\ttl{2}{Z}{0.008}{0.00}}{red}{\tF}
 {(60,0.0065)(290,0.0082)(310,0.009)(415,0.0105)(425,0.0095)(440,0.0103)(600,0.007)(715,0.0107)(780,0.0085)
  (30,0.006)(100,0.0055)(150,0.006)(200,0.0058)(250,0.0065)(350,0.0065)(400,0.008)(460,0.008)(500,0.0075)(550,0.0065)(650,0.006)(700,0.0065)(760,0.007)
  (65,-0.007)(255,-0.0088)(418,-0.0121)(435,-0.0095)(510,-0.0086)(715,-0.0102)(790,-0.0075)
  (30,-0.0065)(120,-0.006)(200,-0.0065)(300,-0.0068)(380,-0.007)(460,-0.0085)(560,-0.0065)(620,-0.0065)(680,-0.0075)(760,-0.007)}
 {0.0081}{(418,-0.0121)}{0.027}

% ---- row 3 ----
\panel{51pt,-629pt}{rC}{\ttl{3}{X}{3.322}{0.90}}{mplgreen}{\tG}
 {(20,2.7)(100,3.7)(135,3.0)(170,3.6)(240,3.0)(290,3.4)(375,4.6)(470,3.6)(540,3.5)(600,3.6)(635,4.6)(648,6.38)(700,4.0)(760,4.0)(775,4.2)(782,5.6)(795,3.7)
  (50,2.6)(130,2.7)(200,2.8)(260,2.9)(320,3.2)(350,3.3)(420,3.4)(450,3.2)(510,3.4)(580,3.3)(620,3.4)(660,3.8)(690,3.9)(730,3.9)
  (60,-2.8)(170,-3.0)(240,-3.2)(290,-3.9)(360,-4.0)(400,-4.1)(480,-3.8)(560,-3.8)(635,-5.5)(648,-5.2)(700,-4.6)(750,-4.5)(780,-4.8)
  (30,-2.6)(100,-2.7)(140,-2.8)(200,-2.6)(310,-3.2)(420,-3.4)(440,-3.5)(520,-3.4)(600,-3.5)(660,-3.8)(680,-4.0)(720,-4.2)(790,-3.7)}
 {3.322}{(648,6.38)}{7.04}
\panel{460pt,-629pt}{rC}{\ttl{3}{Y}{1.644}{0.41}}{mplgreen}{\tH}
 {(50,1.8)(150,1.8)(240,2.8)(280,1.9)(300,1.9)(375,2.5)(440,1.9)(470,2.5)(500,2.0)(535,2.5)(590,2.4)(640,2.4)(650,2.1)(700,2.1)(740,2.0)(775,2.6)(790,2.65)
  (20,1.6)(90,1.65)(120,1.6)(200,1.7)(260,1.7)(330,1.8)(400,1.75)(520,1.8)(560,1.7)(620,1.75)(680,1.9)(720,1.9)(760,2.0)
  (100,-2.0)(240,-2.15)(242,-2.93)(370,-2.4)(470,-2.2)(520,-2.0)(570,-2.2)(640,-2.4)(660,-2.5)(720,-2.2)(765,-2.3)(780,-2.7)
  (30,-1.7)(60,-1.8)(150,-1.7)(200,-1.75)(280,-1.8)(330,-1.75)(420,-1.8)(540,-1.9)(600,-1.8)(690,-1.9)(740,-2.0)(795,-1.9)}
 {1.644}{(242,-2.93)}{7.04}
\panel{869pt,-629pt}{rC}{\ttl{3}{Z}{0.888}{0.23}}{mplgreen}{\tI}
 {(170,1.3)(210,1.05)(290,1.1)(350,1.0)(420,1.1)(450,1.05)(620,1.1)(630,1.8)(648,1.5)(720,1.05)(780,1.4)
  (60,0.95)(240,0.95)(320,1.0)(500,0.95)(560,1.0)(680,1.0)(760,1.0)
  (170,-1.35)(290,-1.1)(380,-1.1)(570,-1.5)(630,-1.5)(648,-1.89)(700,-1.1)(760,-1.2)
  (100,-0.95)(250,-1.0)(330,-0.95)(460,-1.0)(610,-1.0)(730,-1.05)(790,-1.0)}
 {0.888}{(647,-1.89)}{7.04}

% ---- row 4 ----
\panel{51pt,-934pt}{rD}{\ttl{4}{X}{0.230}{0.07}}{black}{\tJ}
 {(60,0.23)(180,0.24)(300,0.23)(450,0.24)(540,0.26)(610,0.27)(625,0.34)(640,0.29)(680,0.32)(720,0.28)(770,0.32)(790,0.3)
  (20,0.22)(100,0.23)(140,0.24)(230,0.24)(260,0.23)(350,0.24)(400,0.25)(490,0.25)(580,0.26)(660,0.27)(700,0.28)(750,0.28)
  (70,-0.24)(120,-0.23)(240,-0.24)(360,-0.25)(420,-0.24)(500,-0.25)(530,-0.24)(570,-0.26)(620,-0.24)(700,-0.24)(760,-0.23)
  (20,-0.22)(100,-0.23)(170,-0.23)(280,-0.23)(320,-0.24)(460,-0.24)(560,-0.24)(660,-0.23)(730,-0.24)(790,-0.23)}
 {0.230}{(625,0.34)}{0.765}
\panel{460pt,-934pt}{rD}{\ttl{4}{Y}{0.445}{0.15}}{black}{\tK}
 {(20,0.42)(50,0.46)(130,0.43)(250,0.45)(300,0.44)(390,0.693)(400,0.63)(470,0.45)(560,0.44)(720,0.45)(760,0.44)
  (80,0.41)(160,0.4)(210,0.42)(280,0.43)(330,0.42)(450,0.46)(500,0.45)(600,0.45)(650,0.45)(690,0.46)(780,0.45)
  (80,-0.44)(180,-0.45)(300,-0.44)(385,-0.58)(392,-0.52)(420,-0.47)(580,-0.48)(640,-0.45)(700,-0.45)(760,-0.44)
  (30,-0.43)(120,-0.43)(220,-0.44)(260,-0.43)(340,-0.44)(460,-0.45)(520,-0.45)(620,-0.45)(740,-0.46)(790,-0.44)}
 {0.445}{(390,0.693)}{0.765}
\panel{869pt,-934pt}{rD}{\ttl{4}{Z}{0.313}{0.11}}{black}{\tL}
 {(200,0.3)(300,0.3)(440,0.385)(480,0.34)(560,0.34)(670,0.39)(700,0.36)(730,0.36)(790,0.35)
  (40,0.28)(90,0.3)(150,0.3)(250,0.3)(340,0.31)(390,0.34)(420,0.35)(520,0.35)(600,0.35)(620,0.36)(760,0.35)
  (250,-0.34)(440,-0.33)(560,-0.35)(680,-0.38)(790,-0.36)
  (50,-0.3)(120,-0.31)(200,-0.32)(330,-0.32)(400,-0.32)(500,-0.35)(600,-0.34)(640,-0.32)(720,-0.35)(760,-0.34)}
 {0.313}{(670,0.392)}{0.765}
\end{tikzpicture}
\end{document}
